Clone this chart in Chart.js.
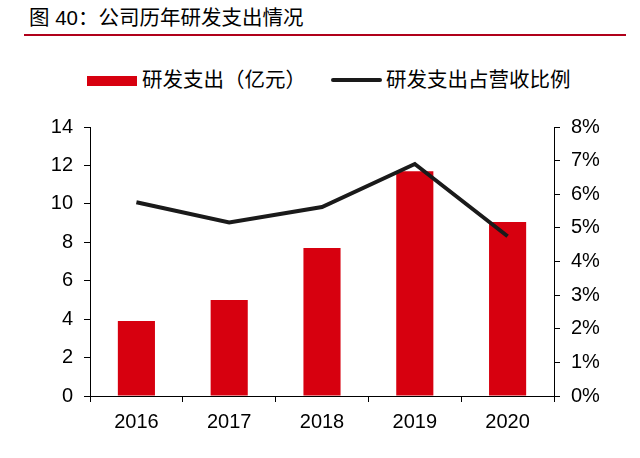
<!DOCTYPE html>
<html>
<head>
<meta charset="utf-8">
<script src="https://cdn.jsdelivr.net/npm/chart.js@4"></script>
<style>
  html, body { margin: 0; padding: 0; background: #fff; }
  body { width: 640px; height: 458px; position: relative; overflow: hidden;
         font-family: "Liberation Sans", "Noto Sans CJK SC", sans-serif; color: #000; }
  .title { position: absolute; left: 29px; top: 5px; font-size: 20.5px; line-height: 26px; white-space: nowrap; }
  .rule { position: absolute; left: 24px; top: 34px; width: 602px; height: 2px; background: #b0001a; }
  .legend { position: absolute; top: 68px; left: 0; height: 24px; font-size: 20.5px; line-height: 24px; }
  .legend span { position: absolute; white-space: nowrap; }
  .swatch-bar { position: absolute; width: 50px; height: 10px; background: #d7000f; top: 8px; }
  .swatch-line { position: absolute; width: 51px; height: 4px; background: #1a1a1a; top: 10px; border-radius: 2px; }
  #wrap { position: absolute; left: 0; top: 100px; width: 640px; height: 358px; }
</style>
</head>
<body>
<div class="title">图 40：公司历年研发支出情况</div>
<div class="rule"></div>
<div class="legend">
  <div class="swatch-bar" style="left:87px"></div>
  <span style="left:142px">研发支出（亿元）</span>
  <div class="swatch-line" style="left:331px"></div>
  <span style="left:386px">研发支出占营收比例</span>
</div>
<div id="wrap"><canvas id="rdChart"></canvas></div>

<script>
// values
const years = ["2016", "2017", "2018", "2019", "2020"];
const rdSpend = [3.9, 5.0, 7.7, 11.7, 9.05];        // 亿元, left axis
const rdRatio = [5.76, 5.16, 5.62, 6.9, 4.75];      // %, right axis
const leftTicks = [0, 2, 4, 6, 8, 10, 12, 14];
const rightTicks = [0, 1, 2, 3, 4, 5, 6, 7, 8];

const tickFont = { family: "'Liberation Sans', Arial, sans-serif", size: 20 };

const axisGrid = {
  drawOnChartArea: false,
  drawTicks: true,
  tickLength: 6,
  color: "#000",
  lineWidth: 1
};

new Chart(document.getElementById("rdChart"), {
  data: {
    labels: years,
    datasets: [
      {
        type: "line",
        label: "研发支出占营收比例",
        data: rdRatio,
        yAxisID: "y1",
        borderColor: "#1a1a1a",
        borderWidth: 4,
        pointRadius: 0,
        tension: 0,
        fill: false,
        order: 0
      },
      {
        type: "bar",
        label: "研发支出（亿元）",
        data: rdSpend,
        yAxisID: "y",
        backgroundColor: "#d7000f",
        barPercentage: 0.4,
        categoryPercentage: 1,
        order: 1
      }
    ]
  },
  options: {
    responsive: true,
    maintainAspectRatio: false,
    animation: false,
    layout: { padding: { top: 27, left: 0, right: 0, bottom: 0 } },
    plugins: { legend: { display: false }, tooltip: { enabled: false } },
    scales: {
      x: {
        grid: { ...axisGrid, offset: true },
        border: { display: true, color: "#000", width: 1 },
        ticks: { font: tickFont, color: "#000", padding: 8, maxRotation: 0 },
        afterFit: s => { s.height = 62; }
      },
      y: {
        position: "left",
        min: 0, max: 14,
        afterBuildTicks: s => { s.ticks = leftTicks.map(v => ({ value: v })); },
        grid: axisGrid,
        border: { display: true, color: "#000", width: 1 },
        ticks: { font: tickFont, color: "#000", padding: 11 },
        afterFit: s => { s.width = 90; }
      },
      y1: {
        position: "right",
        min: 0, max: 8,
        afterBuildTicks: s => { s.ticks = rightTicks.map(v => ({ value: v })); },
        grid: axisGrid,
        border: { display: true, color: "#000", width: 1 },
        ticks: { font: tickFont, color: "#000", padding: 11, callback: v => v + "%" },
        afterFit: s => { s.width = 86; }
      }
    }
  }
});
</script>
</body>
</html>
